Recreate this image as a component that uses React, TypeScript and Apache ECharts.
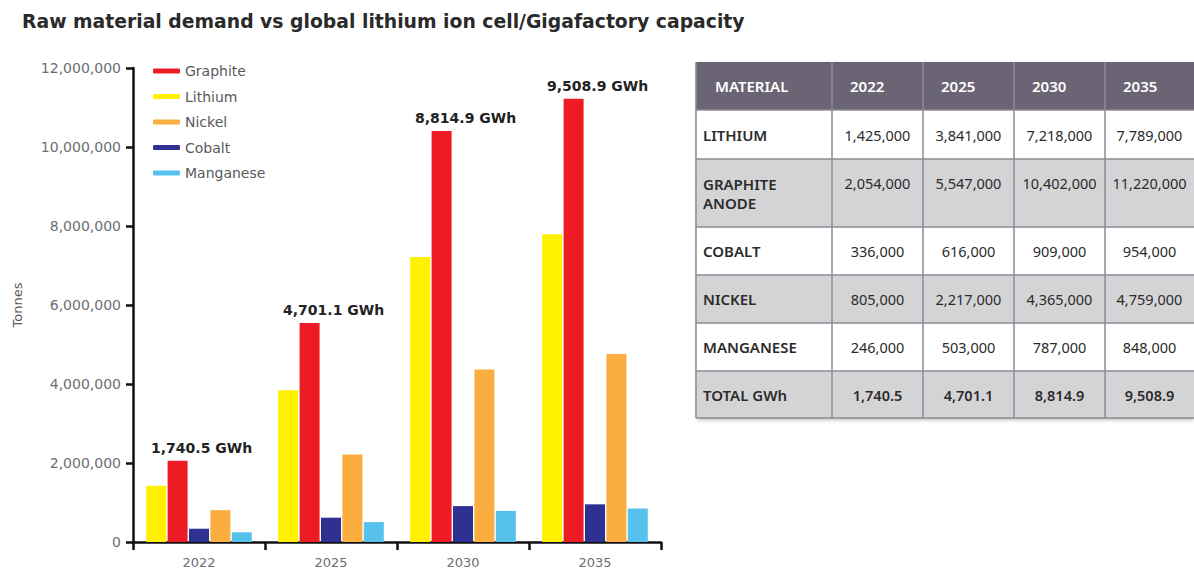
import React, { useEffect, useRef } from "react";
import * as echarts from "echarts";

const years = ["2022", "2025", "2030", "2035"];
const lithium = [1425000, 3841000, 7218000, 7789000];
const graphite = [2054000, 5547000, 10402000, 11220000];
const cobalt = [336000, 616000, 909000, 954000];
const nickel = [805000, 2217000, 4365000, 4759000];
const manganese = [246000, 503000, 787000, 848000];
const totalGWh = [1740.5, 4701.1, 8814.9, 9508.9];

const yTicks = { min: 0, max: 12000000, interval: 2000000 };
const legendOrder = ["Graphite", "Lithium", "Nickel", "Cobalt", "Manganese"];

const tableHeader = ["MATERIAL", "2022", "2025", "2030", "2035"];
const tableRowNames = [["LITHIUM"], ["GRAPHITE", "ANODE"], ["COBALT"], ["NICKEL"], ["MANGANESE"], ["TOTAL GWh"]];

const FONT = "'Noto Sans', sans-serif";
const WIDE = "'DejaVu Sans', sans-serif";

function fmtInt(v: number) {
  return v.toLocaleString("en-US");
}
function fmtDec(v: number) {
  return v.toLocaleString("en-US", { minimumFractionDigits: 1, maximumFractionDigits: 1 });
}

function buildTable() {
  const colX = [696, 832, 923, 1014, 1105, 1194];
  const rowY = [62, 110, 159, 227, 275, 323, 371, 418];
  const rowsValues = [lithium, graphite, cobalt, nickel, manganese];
  const els: any[] = [];
  const x0 = colX[0];
  const x1 = colX[colX.length - 1];
  els.push({
    type: "rect",
    shape: { x: x0, y: rowY[0], width: x1 - x0, height: rowY[rowY.length - 1] - rowY[0] },
    style: { fill: "#fff", shadowBlur: 4, shadowColor: "rgba(0,0,0,0.25)", shadowOffsetX: 1, shadowOffsetY: 2 },
  });
  els.push({
    type: "rect",
    shape: { x: x0, y: rowY[0], width: x1 - x0, height: rowY[1] - rowY[0] },
    style: { fill: "#6a6474" },
  });
  for (let r = 0; r < 6; r++) {
    els.push({
      type: "rect",
      shape: { x: x0, y: rowY[r + 1], width: x1 - x0, height: rowY[r + 2] - rowY[r + 1] },
      style: { fill: r % 2 === 1 ? "#d4d4d6" : "#ffffff" },
    });
  }
  for (let i = 1; i < rowY.length; i++) {
    els.push({
      type: "line",
      shape: { x1: x0, y1: rowY[i], x2: x1, y2: rowY[i] },
      style: { stroke: "#8e8b95", lineWidth: 1.5 },
    });
  }
  for (let j = 0; j < colX.length - 1; j++) {
    els.push({
      type: "line",
      shape: { x1: colX[j], y1: rowY[0], x2: colX[j], y2: rowY[rowY.length - 1] },
      style: { stroke: "#8e8b95", lineWidth: 1.5 },
    });
  }
  tableHeader.forEach((h, j) => {
    els.push({
      type: "text",
      x: j === 0 ? colX[0] + 19 : colX[j] + 18,
      y: (rowY[0] + rowY[1]) / 2,
      style: { text: h, fill: "#ffffff", font: `600 15px ${FONT}`, textVerticalAlign: "middle", textAlign: "left" },
    });
  });
  for (let r = 0; r < 6; r++) {
    const yc = (rowY[r + 1] + rowY[r + 2]) / 2;
    els.push({
      type: "text",
      x: colX[0] + 7,
      y: yc,
      style: {
        text: tableRowNames[r].join("\n"),
        fill: "#2b2b2b",
        font: `600 15px ${FONT}`,
        lineHeight: 19,
        textVerticalAlign: "middle",
        textAlign: "left",
      },
    });
    for (let j = 0; j < 4; j++) {
      const txt = r < 5 ? fmtInt(rowsValues[r][j]) : fmtDec(totalGWh[j]);
      els.push({
        type: "text",
        x: (colX[j + 1] + colX[j + 2]) / 2,
        y: r === 1 ? (rowY[2] + rowY[3]) / 2 - 10 : yc,
        style: {
          text: txt,
          fill: "#2b2b2b",
          font: `${r === 5 ? 600 : 400} 14.5px ${FONT}`,
          textVerticalAlign: "middle",
          textAlign: "center",
        },
      });
    }
  }
  return els;
}

export default function App() {
  const ref = useRef<HTMLDivElement>(null);
  useEffect(() => {
    if (!ref.current) return;
    const chart = echarts.init(ref.current, undefined, { renderer: "svg" });
    const base = { type: "bar", barWidth: 20, barGap: "7%", barCategoryGap: "22%" } as any;
    chart.setOption({
      animation: false,
      textStyle: { fontFamily: WIDE },
      title: {
        text: "Raw material demand vs global lithium ion cell/Gigafactory capacity",
        left: 17,
        top: 7,
        textStyle: { fontFamily: WIDE, fontSize: 18.8, fontWeight: "bold", color: "#2a2a2a" },
      },
      legend: {
        data: legendOrder,
        orient: "vertical",
        left: 148,
        top: 59,
        itemWidth: 27,
        itemHeight: 5,
        itemGap: 11.5,
        icon: "roundRect",
        textStyle: { fontFamily: WIDE, fontSize: 14, color: "#58595b" },
      },
      grid: { left: 133, right: 533, top: 68, bottom: 31, containLabel: false },
      xAxis: {
        type: "category",
        data: years,
        axisLine: { lineStyle: { color: "#111", width: 2.5 } },
        axisTick: { show: true, length: 8, lineStyle: { color: "#111", width: 2.5 } },
        axisLabel: { fontFamily: WIDE, fontSize: 13, color: "#6d6e71", margin: 14 },
      },
      yAxis: {
        type: "value",
        min: yTicks.min,
        max: yTicks.max,
        interval: yTicks.interval,
        name: "Tonnes",
        nameLocation: "middle",
        nameRotate: 90,
        nameGap: 109,
        nameTextStyle: { fontFamily: WIDE, fontSize: 13, color: "#58595b" },
        axisLine: { show: true, lineStyle: { color: "#111", width: 2.5 } },
        axisTick: { show: true, length: 7, lineStyle: { color: "#111", width: 2.5 } },
        splitLine: { show: false },
        axisLabel: {
          fontFamily: WIDE,
          fontSize: 14,
          color: "#6d6e71",
          margin: 12,
          formatter: (v: number) => fmtInt(v),
        },
      },
      series: [
        { ...base, name: "Lithium", data: lithium, itemStyle: { color: "#fff100" } },
        {
          ...base,
          name: "Graphite",
          data: graphite,
          itemStyle: { color: "#ed1c24" },
          label: {
            show: true,
            position: "top",
            distance: 6,
            offset: [24, 0],
            formatter: (p: any) => `${fmtDec(totalGWh[p.dataIndex])} GWh`,
            fontFamily: WIDE,
            fontSize: 14,
            fontWeight: "bold",
            color: "#222",
          },
        },
        { ...base, name: "Cobalt", data: cobalt, itemStyle: { color: "#2e3192" } },
        { ...base, name: "Nickel", data: nickel, itemStyle: { color: "#fbad40" } },
        { ...base, name: "Manganese", data: manganese, itemStyle: { color: "#55c1ec" } },
      ],
      graphic: buildTable(),
    });
    return () => chart.dispose();
  }, []);
  return <div ref={ref} style={{ width: 1194, height: 573, position: "absolute", left: 0, top: 0 }} />;
}
